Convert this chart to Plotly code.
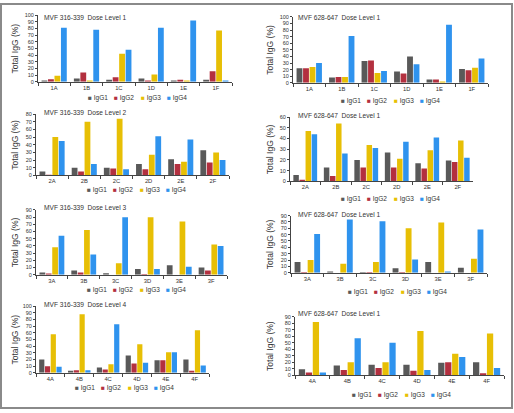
import plotly.graph_objects as go

# ---------------- data ----------------
series_names = ["IgG1", "IgG2", "IgG3", "IgG4"]

cats_1 = ["1A", "1B", "1C", "1D", "1E", "1F"]
cats_2 = ["2A", "2B", "2C", "2D", "2E", "2F"]
cats_3 = ["3A", "3B", "3C", "3D", "3E", "3F"]
cats_4 = ["4A", "4B", "4C", "4D", "4E", "4F"]

title_l1 = "MVF 316-339\u00a0\u00a0Dose Level 1"
title_l2 = "MVF 316-339\u00a0\u00a0Dose Level 2"
title_l3 = "MVF 316-339\u00a0\u00a0Dose Level 3"
title_l4 = "MVF 316-339\u00a0\u00a0Dose Level 4"
title_r = "MVF 628-647\u00a0\u00a0Dose Level 1"
y_title = "Total IgG (%)"

# MVF 316-339 Dose Level 1
l1_igg1 = [2, 5, 3, 5, 2, 3]
l1_igg2 = [4, 14, 7, 2, 3, 16]
l1_igg3 = [9, 2, 42, 11, 2, 77]
l1_igg4 = [81, 78, 48, 81, 92, 2]
# MVF 628-647 (row 1)
r1_igg1 = [22, 8, 33, 17, 5, 21]
r1_igg2 = [22, 9, 34, 14, 5, 19]
r1_igg3 = [24, 9, 15, 40, 2, 23]
r1_igg4 = [30, 71, 18, 28, 88, 37]
# MVF 316-339 Dose Level 2
l2_igg1 = [5, 10, 10, 15, 21, 33]
l2_igg2 = [1, 5, 9, 8, 15, 17]
l2_igg3 = [50, 70, 74, 27, 18, 30]
l2_igg4 = [45, 15, 8, 51, 47, 20]
# MVF 628-647 (row 2)
r2_igg1 = [6, 13, 20, 27, 17, 19.5]
r2_igg2 = [1.5, 5, 13, 13, 12, 18]
r2_igg3 = [47, 54, 34, 21, 29, 38]
r2_igg4 = [44, 26, 31, 37, 41, 22]
# MVF 316-339 Dose Level 3
l3_igg1 = [3, 6, 2, 8, 13, 10]
l3_igg2 = [1.5, 3, 0, 1, 0, 6]
l3_igg3 = [38, 62, 16, 80, 74, 42]
l3_igg4 = [54, 28, 80, 8, 11, 40]
# MVF 628-647 (row 3)
r3_igg1 = [17, 2, 1, 7, 17, 8]
r3_igg2 = [1, 0, 1, 1, 0, 0]
r3_igg3 = [20, 14, 17, 70, 79, 22]
r3_igg4 = [61, 84, 81, 21, 2, 68]
# MVF 316-339 Dose Level 4
l4_igg1 = [20, 3, 8, 26, 19, 20]
l4_igg2 = [10, 4, 5, 14, 19, 3]
l4_igg3 = [58, 88, 13, 43, 31, 64]
l4_igg4 = [9, 4, 73, 15, 31, 11]
# MVF 628-647 (row 4)
r4_igg1 = [9, 15, 16, 16, 19, 20]
r4_igg2 = [4, 8, 11, 7, 20, 3]
r4_igg3 = [82, 20, 20, 68, 33, 64]
r4_igg4 = [4, 57, 50, 8, 28, 11]

y_max_l1, y_max_r1 = 100, 100
y_max_l2, y_max_r2 = 80, 60
y_max_l3, y_max_r3 = 90, 90
y_max_l4, y_max_r4 = 100, 90

# ---------------- style ----------------
W, H = 514, 413
C1, C2, C3, C4 = "#595959", "#b3303f", "#e7bf05", "#2f93ee"
series_colors = [C1, C2, C3, C4]
r1_igg3_bar_colors = [C3, C3, C3, C1, C3, C3]  # the 1D IgG3 bar is drawn grey in the original
FONT = "Liberation Sans, Arial, sans-serif"
TXT = "#333333"
AX = "#444444"


def xd(a, b):
    return [a / W, b / W]


def yd(top, bottom):
    return [1 - bottom / H, 1 - top / H]


panels = [
    dict(s=[l1_igg1, l1_igg2, l1_igg3, l1_igg4], c=cats_1, t=title_l1, ym=y_max_l1,
         xp=(38, 232), yp=(12.3, 80), tp=(42, 14.3), lp=(86, 96), yt=15),
    dict(s=[r1_igg1, r1_igg2, r1_igg3, r1_igg4], c=cats_1, t=title_r, ym=y_max_r1,
         xp=(293, 488), yp=(14, 81), tp=(296, 14.3), lp=(339, 99), yt=270),
    dict(s=[l2_igg1, l2_igg2, l2_igg3, l2_igg4], c=cats_2, t=title_l2, ym=y_max_l2,
         xp=(36, 229), yp=(112.7, 175), tp=(42, 110.7), lp=(85, 190), yt=15),
    dict(s=[r2_igg1, r2_igg2, r2_igg3, r2_igg4], c=cats_2, t=title_r, ym=y_max_r2,
         xp=(290, 473), yp=(115.7, 181), tp=(296, 114.3), lp=(339, 199), yt=270),
    dict(s=[l3_igg1, l3_igg2, l3_igg3, l3_igg4], c=cats_3, t=title_l3, ym=y_max_l3,
         xp=(36, 227), yp=(210, 275.7), tp=(42, 207.3), lp=(85, 291), yt=15),
    dict(s=[r3_igg1, r3_igg2, r3_igg3, r3_igg4], c=cats_3, t=title_r, ym=y_max_r3,
         xp=(291, 487), yp=(215.7, 273.7), tp=(296, 215), lp=(346, 293), yt=270),
    dict(s=[l4_igg1, l4_igg2, l4_igg3, l4_igg4], c=cats_4, t=title_l4, ym=y_max_l4,
         xp=(36, 209), yp=(307.7, 375.3), tp=(42, 306), lp=(73, 391), yt=15),
    dict(s=[r4_igg1, r4_igg2, r4_igg3, r4_igg4], c=cats_4, t=title_r, ym=y_max_r4,
         xp=(295, 504), yp=(318.3, 377.7), tp=(296, 315), lp=(350, 398), yt=270),
]

fig = go.Figure()
layout = dict(
    width=W, height=H,
    margin=dict(l=0, r=0, t=0, b=0),
    paper_bgcolor="white", plot_bgcolor="white",
    barmode="group", bargap=0.2, bargroupgap=0.1,
    showlegend=False,
    font=dict(family=FONT, color=TXT),
)
annotations = []
shapes = []

for i, p in enumerate(panels):
    sfx = "" if i == 0 else str(i + 1)
    xa, ya = "x" + sfx, "y" + sfx
    for k, vals in enumerate(p["s"]):
        col = series_colors[k]
        if i == 1 and k == 2:
            col = r1_igg3_bar_colors
        fig.add_trace(go.Bar(x=p["c"], y=vals, name=series_names[k],
                             marker=dict(color=col, line=dict(width=0)),
                             xaxis=xa, yaxis=ya, showlegend=False))
    layout["xaxis" + sfx] = dict(
        domain=xd(*p["xp"]), anchor=ya, type="category",
        showline=True, linecolor=AX, linewidth=1,
        ticks="outside", ticklen=3, tickcolor=AX, tickson="boundaries",
        tickfont=dict(size=5.8, color=TXT, family=FONT),
        showgrid=False, zeroline=False, fixedrange=True,
    )
    layout["yaxis" + sfx] = dict(
        domain=yd(*p["yp"]), anchor=xa, range=[0, p["ym"]], dtick=10,
        showline=True, linecolor=AX, linewidth=1,
        ticks="outside", ticklen=2, tickcolor=AX,
        tickfont=dict(size=5.5, color=TXT, family=FONT),
        showgrid=False, zeroline=False, fixedrange=True,
    )
    annotations.append(dict(text=p["t"], x=p["tp"][0] / W, y=1 - p["tp"][1] / H,
                            xref="paper", yref="paper", xanchor="left", yanchor="middle",
                            showarrow=False, font=dict(size=6.6, color=TXT, family=FONT)))
    yc = (p["yp"][0] + p["yp"][1]) / 2
    annotations.append(dict(text=y_title, x=p["yt"] / W, y=1 - yc / H,
                            xref="paper", yref="paper", xanchor="center", yanchor="middle",
                            textangle=-90, showarrow=False,
                            font=dict(size=8.5, color=TXT, family=FONT)))
    for k, name in enumerate(series_names):
        annotations.append(dict(
            text=f"<span style='color:{series_colors[k]}'>\u25a0</span> {name}",
            x=(p["lp"][0] + k * 26.3) / W, y=1 - p["lp"][1] / H,
            xref="paper", yref="paper", xanchor="left", yanchor="middle",
            showarrow=False, font=dict(size=6.5, color=TXT, family=FONT)))

shapes.append(dict(type="rect", xref="paper", yref="paper",
                   x0=1 / W, x1=512 / W, y0=1 - 411 / H, y1=1 - 1 / H,
                   line=dict(color="#8a8a8a", width=2), fillcolor="rgba(0,0,0,0)"))

layout["annotations"] = annotations
layout["shapes"] = shapes
fig.update_layout(**layout)
fig.write_html("out.html",
               config={"displayModeBar": False, "staticPlot": True},
               post_script="document.body.style.margin='0';document.body.style.overflow='hidden';")
